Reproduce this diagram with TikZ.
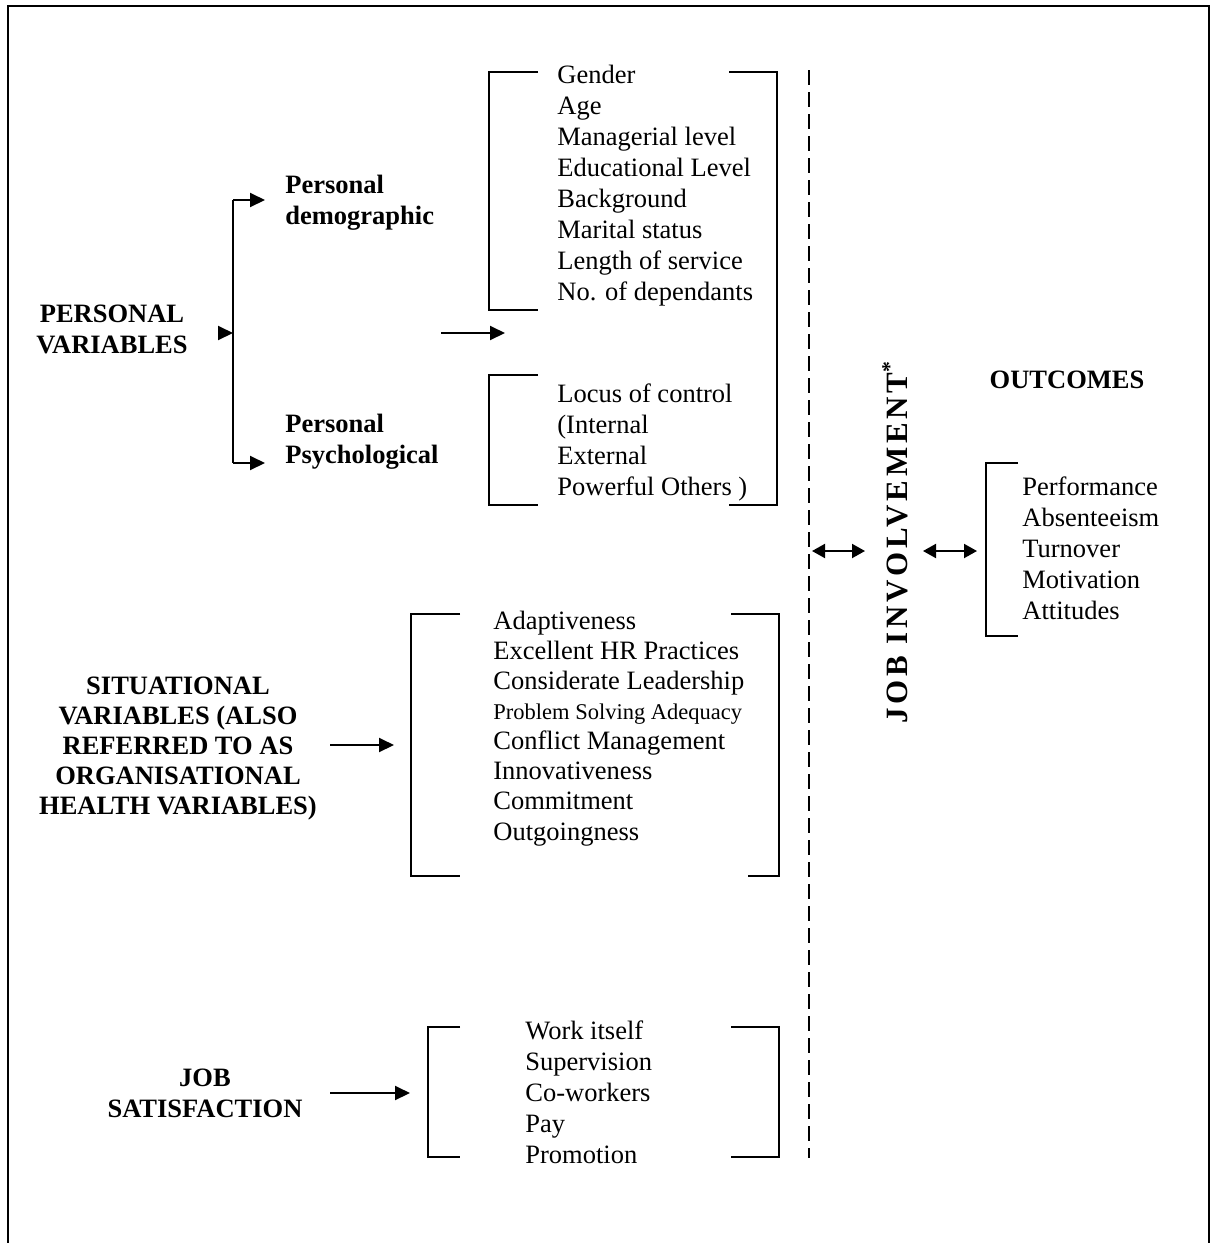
\documentclass[tikz,border=0pt]{standalone}
\usepackage{fontspec}
\setmainfont{Liberation Serif}
\usetikzlibrary{arrows.meta,positioning}

\begin{document}
\begin{tikzpicture}[x=0.5pt,y=-0.5pt,
  lbl/.style={font=\fontsize{13.25}{15.5}\selectfont\bfseries,align=center,inner sep=0pt,anchor=base},
  sub/.style={font=\fontsize{13.25}{15.5}\selectfont\bfseries,align=left,inner sep=0pt,anchor=base west},
  list/.style={font=\fontsize{13.25}{15.5}\selectfont,align=left,inner sep=0pt,anchor=base west},
  brk/.style={line width=1pt},
  arr/.style={-{Triangle[length=7.5pt,width=7pt]},line width=1pt},
  dbl/.style={{Triangle[length=6.5pt,width=7pt]}-{Triangle[length=6.5pt,width=7pt]},line width=1pt}]
\useasboundingbox (0,0) rectangle (1211,1243);
% frame, open at the bottom
\draw[line width=1pt] (8,1243) -- (8,6) -- (1209,6) -- (1209,1243);

% left column (placed by the baseline of the last line)
\node[lbl] (pv) at (112,353) {PERSONAL\\VARIABLES};
\node[sub] (pd) at (285,224) {Personal\\demographic};
\node[sub] (pp) at (285,463) {Personal\\Psychological};
\node[lbl,font=\fontsize{13.25}{15}\selectfont\bfseries] (sv) at (178,814) {SITUATIONAL\\VARIABLES (ALSO\\REFERRED TO AS\\ORGANISATIONAL\\HEALTH VARIABLES)};
\node[lbl] (jsat) at (205,1117) {JOB\\SATISFACTION};

% item lists
\node[list] (demo) at (557,300) {Gender\\Age\\Managerial level\\Educational Level\\Background\\Marital status\\Length of service\\No. of dependants};
\node[list,font=\fontsize{13.25}{15.35}\selectfont] (psy) at (557,495) {Locus of control\\(Internal\\External\\Powerful Others )};
\node[list,font=\fontsize{13.25}{15.05}\selectfont] (sit) at (493,840) {Adaptiveness\\Excellent HR Practices\\Considerate Leadership\\{\fontsize{11.25}{15.05}\selectfont Problem Solving Adequacy}\\Conflict Management\\Innovativeness\\Commitment\\Outgoingness};
\node[list] (js) at (525,1163) {Work itself\\Supervision\\Co-workers\\Pay\\Promotion};
\node[list,font=\fontsize{13.25}{15.4}\selectfont] (out) at (1022,619) {Performance\\Absenteeism\\Turnover\\Motivation\\Attitudes};

% right side
\node[lbl] (oc) at (1067,388) {OUTCOMES};
\node[lbl,anchor=center,rotate=90,font=\fontsize{15.5}{16}\selectfont\bfseries\addfontfeature{LetterSpace=12}] (ji) at (895,542) {JOB INVOLVEMENT\textsuperscript{*}};
\draw[line width=0.8pt,dash pattern=on 7.5pt off 3.5pt] (809,70) -- (809,1158);

% brackets
\draw[brk] (538,72) -- (489,72) -- (489,310) -- (538,310);
\draw[brk] (538,375) -- (489,375) -- (489,505) -- (538,505);
\draw[brk] (729,72) -- (777,72) -- (777,505) -- (729,505);
\draw[brk] (460,614) -- (411,614) -- (411,876) -- (460,876);
\draw[brk] (731,614) -- (779,614) -- (779,876) -- (748,876);
\draw[brk] (460,1027) -- (428,1027) -- (428,1157) -- (460,1157);
\draw[brk] (731,1027) -- (779,1027) -- (779,1157) -- (731,1157);
\draw[brk] (1018,463) -- (986,463) -- (986,636) -- (1018,636);

% connectors
\coordinate (treetop) at (233,200);
\coordinate (treebot) at (233,463);
\coordinate (treemid) at (233,333);
\coordinate (pvtip) at (218,333);
\draw[line width=1pt] (treetop) -- (treebot);
\draw[arr] (pvtip) -- (treemid);
\draw[arr] (treetop) -- ([xshift=-10pt]pd.west |- treetop);
\draw[arr] (treebot) -- ([xshift=-10pt]pp.west |- treebot);
\coordinate (mida) at (441,333);
\coordinate (midb) at (505,333);
\draw[arr] (mida) -- (midb);
\coordinate (sita) at (330,745);
\coordinate (sitb) at (394,745);
\draw[arr] (sita) -- (sitb);
\coordinate (jsa) at (330,1093);
\coordinate (jsb) at (410,1093);
\draw[arr] (jsa) -- (jsb);
\coordinate (dla) at (812,551);
\coordinate (dlb) at (865,551);
\coordinate (dra) at (923,551);
\coordinate (drb) at (977,551);
\draw[dbl] (dla) -- (dlb);
\draw[dbl] (dra) -- (drb);
\end{tikzpicture}
\end{document}
